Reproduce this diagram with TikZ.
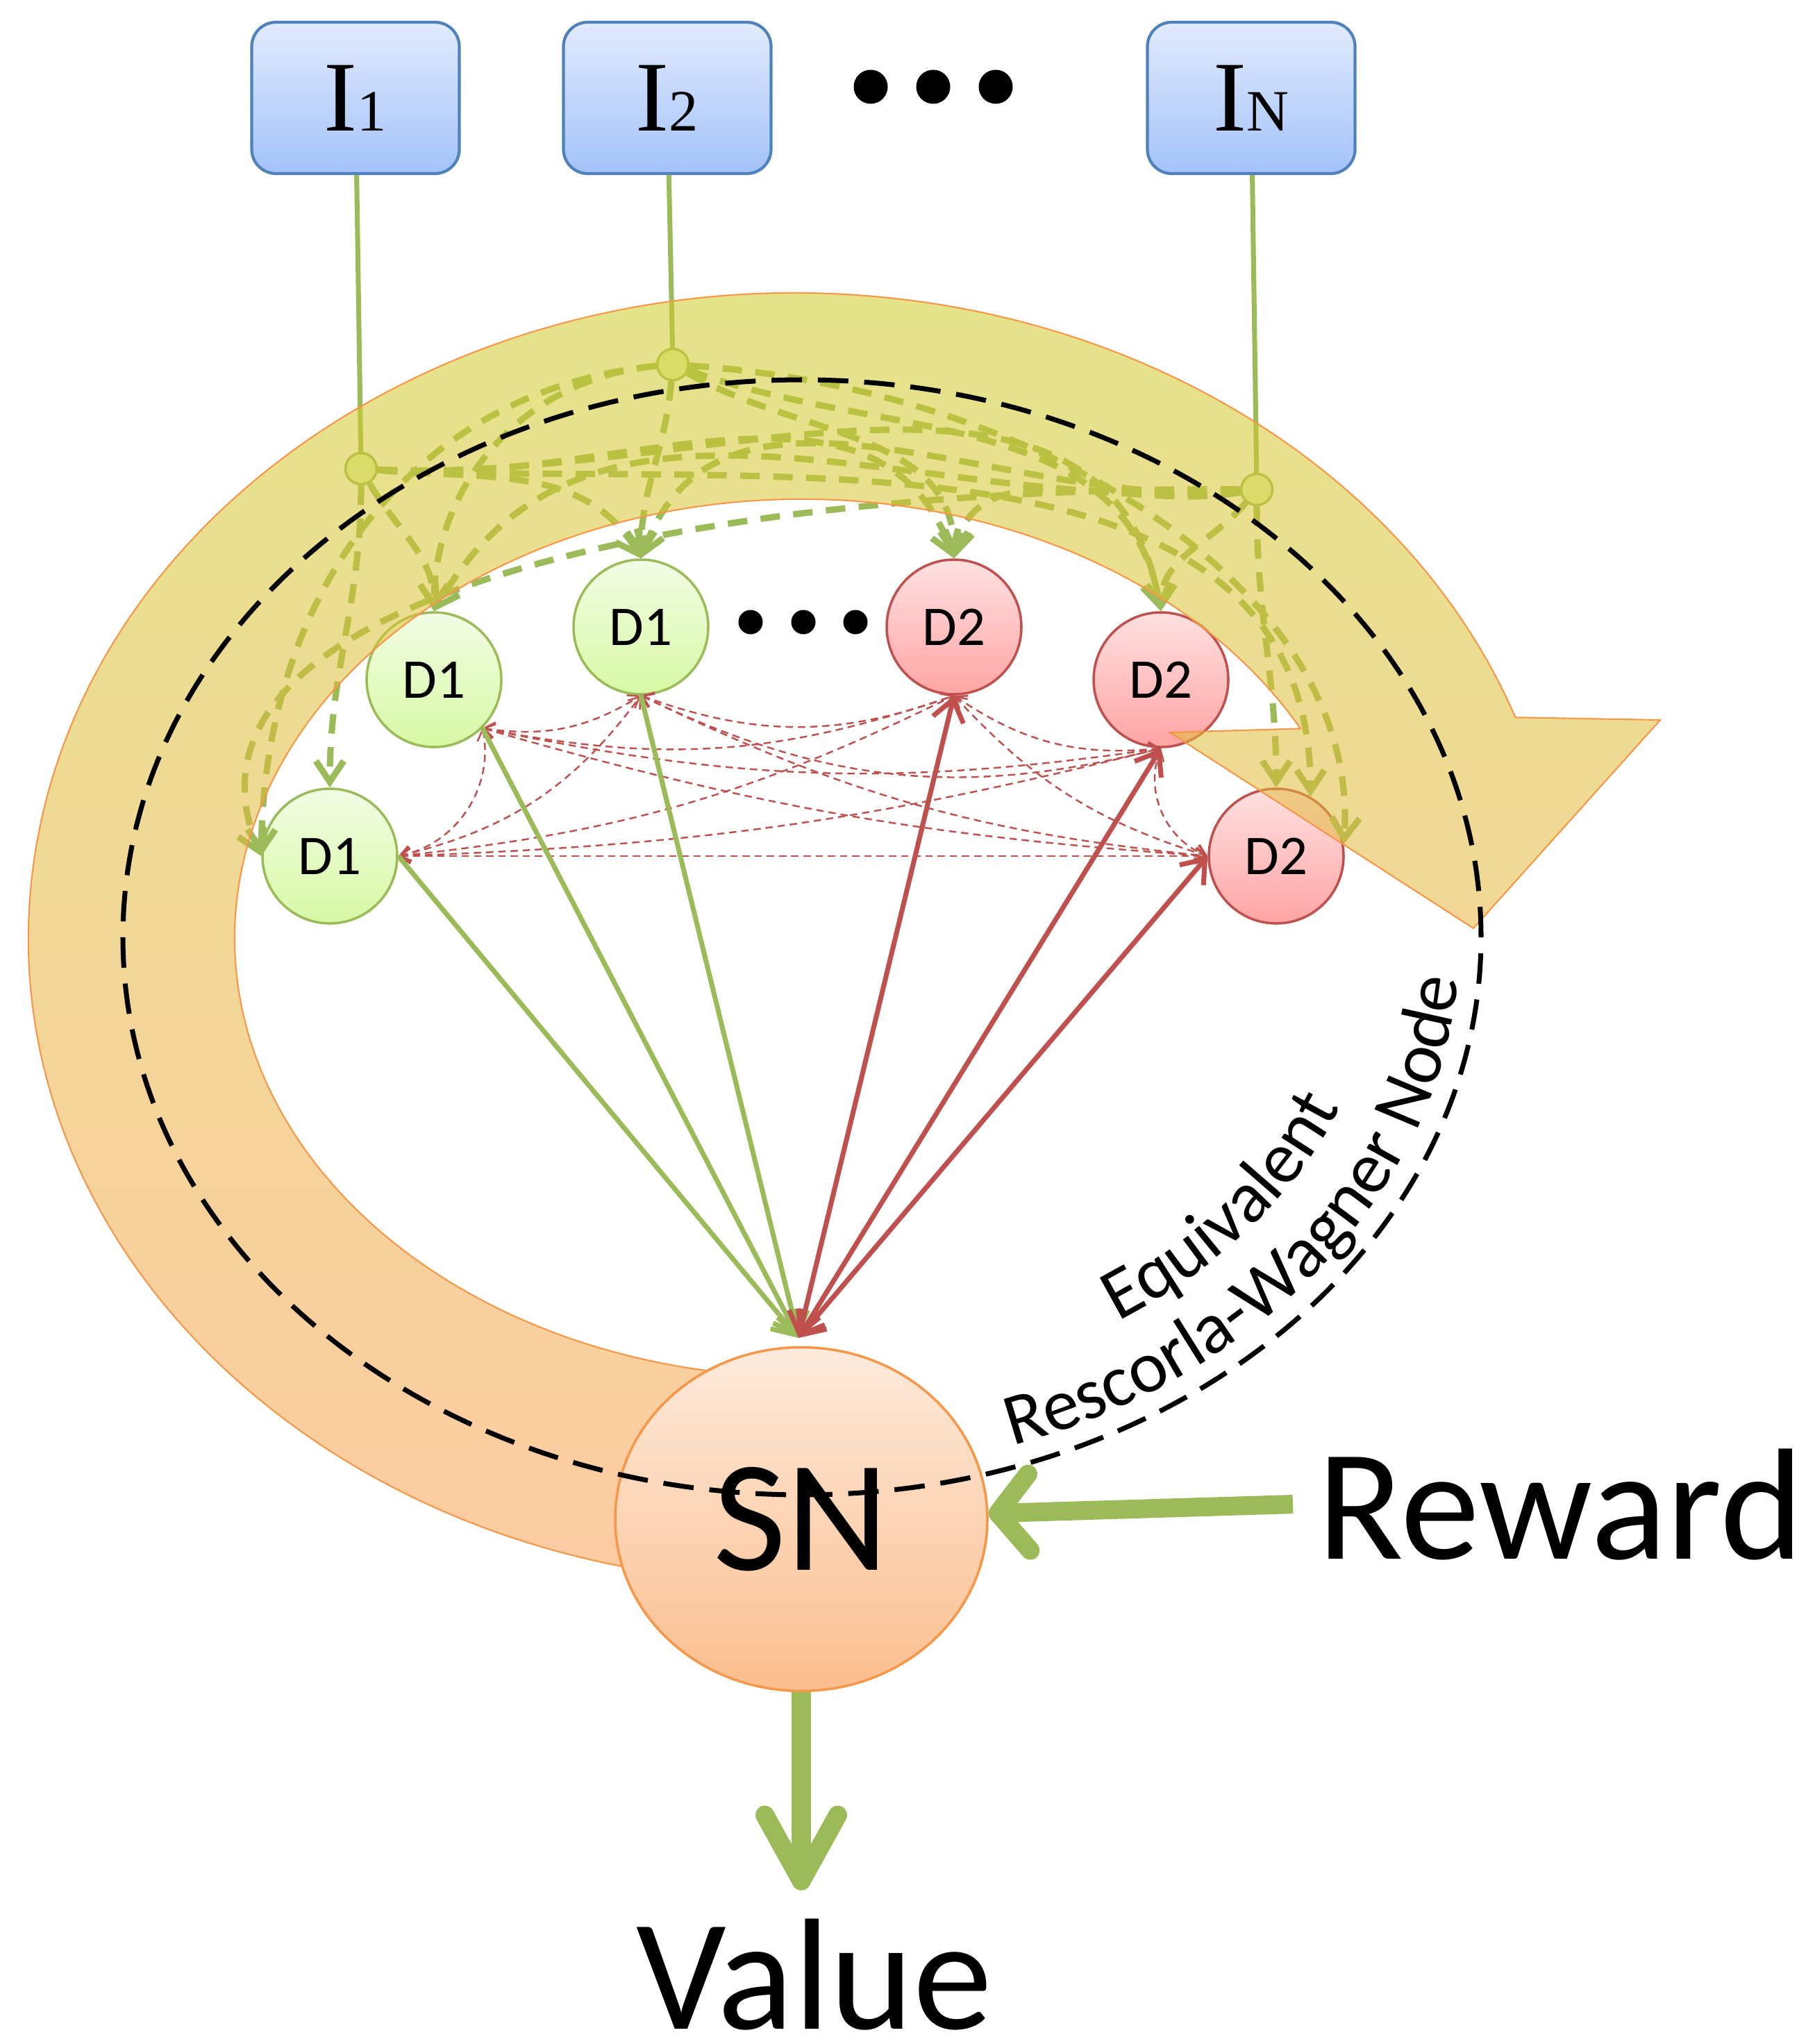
\documentclass[tikz,border=0pt]{standalone}
\usepackage{fontspec}
\setmainfont{Carlito}
\newfontfamily\boxfont{Liberation Serif}
\usetikzlibrary{arrows.meta,decorations.text,shapes.geometric}

\definecolor{gline}{RGB}{155,187,89}
\definecolor{rline}{RGB}{192,80,77}
\definecolor{oline}{RGB}{247,150,70}
\definecolor{bline}{RGB}{79,129,189}
\definecolor{boxtop}{RGB}{224,235,253}
\definecolor{boxbot}{RGB}{164,194,249}
\definecolor{gtop}{RGB}{242,252,228}
\definecolor{gbot}{RGB}{214,249,164}
\definecolor{rtop}{RGB}{255,224,224}
\definecolor{rbot}{RGB}{255,164,164}
\definecolor{jfill}{RGB}{224,246,173}
\definecolor{sntop}{RGB}{253,234,219}
\definecolor{snbot}{RGB}{251,190,142}
\definecolor{bandtop}{RGB}{206,206,40}
\definecolor{bandmid}{RGB}{220,184,40}
\definecolor{bandbot}{RGB}{252,160,86}

\newcommand\hugelabel{\fontsize{65}{74}\selectfont}

\begin{document}
\begin{tikzpicture}[
  inbox/.style={draw=bline, line width=1.2pt, rounded corners=0.35cm,
    top color=boxtop, bottom color=boxbot,
    minimum width=2.99cm, minimum height=2.18cm, inner sep=0pt},
  dnode/.style={circle, line width=1pt, minimum size=1.94cm, inner sep=0pt,
    font=\fontsize{23}{23}\selectfont},
  gnode/.style={dnode, draw=gline, top color=gtop, bottom color=gbot},
  rnode/.style={dnode, draw=rline, top color=rtop, bottom color=rbot},
  junc/.style={circle, draw=gline, fill=jfill, line width=1pt,
    minimum size=0.45cm, inner sep=0pt},
  feed/.style={gline, line width=2pt},
  gdashed/.style={gline, line width=2.6pt, dash pattern=on 8pt off 5.5pt,
    -{Straight Barb[length=0.3cm,width=0.4cm]}},
  rdashed/.style={rline, line width=0.7pt, dash pattern=on 3pt off 2pt,
    {Straight Barb[length=0.15cm,width=0.22cm]}-{Straight Barb[length=0.15cm,width=0.22cm]}},
  gsolid/.style={gline, line width=2pt,
    -{Straight Barb[length=0.3cm,width=0.45cm]}},
  rsolid/.style={rline, line width=2pt,
    {Straight Barb[length=0.3cm,width=0.45cm]}-{Straight Barb[length=0.3cm,width=0.45cm]}},
  bigarrow/.style={gline, line width=7.7pt},
  rwline/.style={black, line width=2pt, dash pattern=on 12.5pt off 6.5pt},
  band/.style={draw=oline, line width=0.6pt, fill opacity=0.55,
    top color=bandtop, middle color=bandmid, bottom color=bandbot}
]
\useasboundingbox (0,0) rectangle (26,-29.44);

% inputs
\node[inbox] (ia) at (5.12,-1.41) {\boxfont\fontsize{41}{41}\selectfont I{\fontsize{24}{24}\selectfont 1}};
\node[inbox] (ib) at (9.61,-1.41) {\boxfont\fontsize{41}{41}\selectfont I{\fontsize{24}{24}\selectfont 2}};
\node[inbox] (ic) at (18.02,-1.41) {\boxfont\fontsize{41}{41}\selectfont I{\fontsize{24}{24}\selectfont N}};
\foreach \x in {12.54,13.44,14.34}
  \fill (\x,-1.25) circle (0.245);

% junctions
\node[junc] (j1) at (5.20,-6.75) {};
\node[junc] (j2) at (9.69,-5.25) {};
\node[junc] (jn) at (18.10,-7.05) {};
\draw[feed] (ia) -- (j1);
\draw[feed] (ib) -- (j2);
\draw[feed] (ic) -- (jn);

% detectors
\node[gnode] (g1) at (4.75,-12.33) {D1};
\node[gnode] (g2) at (6.25,-9.79) {D1};
\node[gnode] (g3) at (9.23,-9.03) {D1};
\node[rnode] (r3) at (13.74,-9.03) {D2};
\node[rnode] (r2) at (16.72,-9.79) {D2};
\node[rnode] (r1) at (18.38,-12.33) {D2};
\foreach \x in {10.81,11.57,12.32}
  \fill (\x,-8.96) circle (0.175);

% input to detector links
\draw[gdashed] (j1) to[out=-90,in=90] (g1.north);
\draw[gdashed] (j1) to[out=-60,in=90] (g2.north);
\draw[gdashed] (j1) to[out=-5,in=120] (g3.north);
\draw[gdashed] (j1) to[out=-5,in=110] (r3.north);
\draw[gdashed] (j1) to[out=-3,in=100] (r2.north);
\draw[gdashed] (j1) to[out=-3,in=90] (r1.60);
\draw[gdashed] (j2) .. controls (6,-5.6) and (3.8,-8.5) .. (g1.west);
\draw[gdashed] (j2) to[out=185,in=90] (g2.north);
\draw[gdashed] (j2) to[out=-95,in=90] (g3.north);
\draw[gdashed] (j2) to[out=-30,in=90] (r3.north);
\draw[gdashed] (j2) to[out=-20,in=100] (r2.north);
\draw[gdashed] (j2) .. controls (15,-5.6) and (19.6,-8.5) .. (r1.10);
\draw[gdashed] (jn) .. controls (10,-7.0) and (2.2,-8.6) .. (g1.west);
\draw[gdashed] (jn) to[out=185,in=60] (g2.north);
\draw[gdashed] (jn) to[out=185,in=70] (g3.north);
\draw[gdashed] (jn) to[out=190,in=80] (r3.north);
\draw[gdashed] (jn) to[out=-130,in=90] (r2.north);
\draw[gdashed] (jn) to[out=-90,in=90] (r1.north);

% big curved arrow
\path[band] (11.45,-13.51) ++(262:11.04 and 9.29)
  arc[start angle=262, end angle=20, x radius=11.04, y radius=9.29]
  -- (23.91,-10.37) -- (21.22,-13.37) -- (16.85,-10.55) -- (18.73,-10.494)
  arc[start angle=28.5, end angle=275, x radius=8.17, y radius=6.32] -- cycle;

% summing node
\node[ellipse, draw=oline, line width=1pt, top color=sntop, bottom color=snbot,
  minimum width=5.36cm, minimum height=4.95cm, inner sep=0pt, font=\hugelabel] (sn) at (11.54,-21.88) {SN};
\coordinate (snin) at (11.50,-19.27);

\draw[rwline] (11.55,-13.50) ellipse [x radius=9.78, y radius=8.03];
\path[decorate, decoration={text along path, text align=center,
  text={|\fontsize{30}{36}\selectfont|Rescorla-Wagner Node}}]
  (11.55,-13.50) ++(-75:9.48 and 7.73) arc[start angle=-75, end angle=0, x radius=9.48, y radius=7.73];
\path[decorate, decoration={text along path, text align=center,
  text={|\fontsize{30}{36}\selectfont|Equivalent}}]
  (11.55,-13.50) ++(-75:8.35 and 6.60) arc[start angle=-75, end angle=0, x radius=8.35, y radius=6.60];

% detector links
\foreach \a/\b/\t in {g1.east/g2.-45/45, g1.east/g3.south/20, g1.east/r3.south/10,
    g1.east/r2.south/6, g1.east/r1.west/0, g2.-45/g3.south/20, g2.-45/r3.south/15,
    g2.-45/r2.south/10, g2.-45/r1.west/6, g3.south/r3.south/20, g3.south/r2.south/20,
    g3.south/r1.west/10, r3.south/r2.south/20, r3.south/r1.west/15, r2.south/r1.west/45}
  \draw[rdashed] (\a) to[bend right=\t] (\b);

\draw[gsolid] (g1.east) -- (snin);
\draw[gsolid] (g2.-45) -- (snin);
\draw[gsolid] (g3.south) -- (snin);
\draw[rsolid] (r3.south) -- (snin);
\draw[rsolid] (r2.south) -- (snin);
\draw[rsolid] (r1.west) -- (snin);

% reward and value
\node[anchor=base west, inner xsep=0.35cm, inner ysep=0pt, font=\hugelabel] (reward) at (18.62,-22.45) {Reward};
\node[anchor=base, inner sep=0pt, font=\hugelabel] (value) at (11.73,-29.22) {Value};
\draw[bigarrow, -{Straight Barb[round,length=0.45cm,width=1.1cm]}] (reward.west) -- (sn);
\draw[bigarrow, shorten >=0.4cm, -{Straight Barb[round,length=0.95cm,width=1.05cm]}] (sn) -- (sn |- value.north);
\end{tikzpicture}
\end{document}
